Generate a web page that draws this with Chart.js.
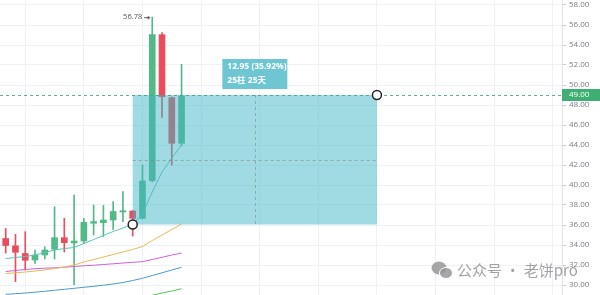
<!DOCTYPE html>
<html>
<head>
<meta charset="utf-8">
<script src="https://cdn.jsdelivr.net/npm/chart.js@4/dist/chart.umd.min.js"></script>
<style>
  html, body { margin: 0; padding: 0; background: #fff; }
  #chart { display: block; }
</style>
</head>
<body>
<canvas id="chart" width="600" height="295"></canvas>
<script>
// candele, indice 0..18
const opens  = [34.65, 33.92, 33.15, 32.50, 33.00, 33.57, 34.73, 34.20, 34.40, 36.17, 36.23, 36.50, 37.30, 37.40, 36.67, 40.43, 55.03, 48.73, 44.17];
const highs  = [35.65, 35.07, 35.33, 33.50, 33.83, 37.83, 36.67, 39.00, 36.67, 38.00, 37.95, 38.33, 39.33, 37.45, 42.00, 56.78, 55.23, 48.80, 52.07];
const lows   = [33.20, 30.33, 31.50, 32.17, 32.60, 32.60, 33.30, 30.00, 34.17, 35.00, 34.85, 35.55, 36.33, 34.90, 36.60, 40.30, 46.77, 42.00, 43.90];
const closes = [33.95, 33.27, 32.47, 33.00, 33.50, 34.73, 34.23, 34.40, 36.27, 36.35, 36.50, 37.35, 37.43, 36.67, 40.40, 55.03, 48.83, 44.17, 48.90];

// medie mobili
const maTeal    = [32.65, 32.75, 32.85, 33.00, 33.25, 33.50, 33.65, 33.75, 34.15, 34.55, 34.95, 35.35, 35.70, 36.05, 37.10, 39.30, 41.30, 42.70, 44.00];
const maOrange  = [31.15, 31.22, 31.30, 31.40, 31.50, 31.65, 31.80, 32.00, 32.30, 32.55, 32.80, 33.05, 33.30, 33.55, 33.85, 34.45, 35.00, 35.55, 36.10];
const maMagenta = [31.35, 31.45, 31.55, 31.63, 31.68, 31.72, 31.77, 31.85, 31.92, 31.98, 32.05, 32.12, 32.20, 32.27, 32.33, 32.55, 32.77, 33.00, 33.20];
const maBlue    = [29.06, 29.13, 29.20, 29.28, 29.37, 29.47, 29.57, 29.67, 29.77, 29.87, 29.98, 30.10, 30.25, 30.45, 30.67, 30.95, 31.22, 31.50, 31.77];
const maGreen   = [null, null, null, null, null, null, null, null, null, null, null, null, null, 28.45, 28.70, 28.97, 29.20, 29.40, 29.63];

const yTicks = [30, 32, 34, 36, 38, 40, 42, 44, 46, 48, 50, 52, 54, 56, 58];
const xGridAt = [2, 8, 14, 20, 26, 32, 38, 44, 50, 56];

// misurazione prezzo
const rangeStart = 13, rangeEnd = 38;
const rangeLow = 36.05, rangeHigh = 49.00;
const rangeText = ['12.95 (35.92%)', '25柱 25天'];
const peakIndex = 15, peakValue = 56.78;
const priceTag = '49.00';
const watermark = '公众号 · 老饼pro';

const upColor = '#53b987';
const downColor = '#eb4d5c';
const candleColors = opens.map((o, i) => closes[i] >= o ? upColor : downColor);

const wicks = opens.map((o, i) => ({ x: i, y: [lows[i], highs[i]] }));
const bodies = opens.map((o, i) => ({ x: i, y: [Math.min(o, closes[i]), Math.max(o, closes[i])] }));
const toPoints = arr => arr.map((v, i) => ({ x: i, y: v }));

function maLine(data, color) {
    return {
        type: 'line',
        data: toPoints(data),
        borderColor: color,
        borderWidth: 1,
        pointRadius: 0,
        tension: 0,
        order: 0
    };
}

// disegni sopra il grafico
const overlayPlugin = {
    id: 'overlay',
    afterDatasetsDraw(chart) {
        const ctx = chart.ctx;
        const xs = chart.scales.x;
        const ys = chart.scales.y;
        const area = chart.chartArea;
        const left = xs.getPixelForValue(rangeStart);
        const right = xs.getPixelForValue(rangeEnd);
        const top = ys.getPixelForValue(rangeHigh);
        const bottom = ys.getPixelForValue(rangeLow);
        const midX = (left + right) / 2;
        const midY = (top + bottom) / 2;

        ctx.save();
        ctx.fillStyle = 'rgba(65, 181, 197, 0.5)';
        ctx.fillRect(left, top, right - left, bottom - top);

        ctx.lineWidth = 1;
        ctx.setLineDash([3, 3]);
        ctx.strokeStyle = 'rgba(60, 165, 125, 0.85)';
        ctx.beginPath();
        ctx.moveTo(area.left, Math.round(top) + 0.5);
        ctx.lineTo(area.right, Math.round(top) + 0.5);
        ctx.stroke();

        ctx.strokeStyle = 'rgba(130, 130, 130, 0.55)';
        ctx.beginPath();
        ctx.moveTo(left, Math.round(midY) + 0.5);
        ctx.lineTo(right, Math.round(midY) + 0.5);
        ctx.moveTo(Math.round(midX) + 0.5, top);
        ctx.lineTo(Math.round(midX) + 0.5, bottom);
        ctx.stroke();
        ctx.setLineDash([]);

        // cerchi di ancoraggio
        [[left, bottom], [right, top]].forEach(([cx, cy]) => {
            ctx.beginPath();
            ctx.arc(cx, cy, 4.5, 0, Math.PI * 2);
            ctx.fillStyle = '#fff';
            ctx.fill();
            ctx.lineWidth = 1.5;
            ctx.strokeStyle = '#222';
            ctx.stroke();
        });

        // etichetta della misura
        const lw = 65, lh = 30;
        const lx = midX - lw / 2, ly = top - 6 - lh;
        ctx.fillStyle = '#6ec6d2';
        ctx.fillRect(lx, ly, lw, lh);
        ctx.fillStyle = '#fff';
        ctx.font = 'bold 8.5px "Noto Sans", "Noto Sans CJK SC", sans-serif';
        ctx.textAlign = 'left';
        ctx.textBaseline = 'middle';
        ctx.fillText(rangeText[0], lx + 5, ly + 8);
        ctx.fillText(rangeText[1], lx + 5, ly + 22);

        // massimo
        const px = xs.getPixelForValue(peakIndex);
        const py = ys.getPixelForValue(peakValue);
        ctx.fillStyle = '#555';
        ctx.font = '7.5px "Open Sans", sans-serif';
        ctx.textAlign = 'right';
        ctx.fillText(peakValue.toFixed(2), px - 10, py);
        ctx.strokeStyle = '#555';
        ctx.lineWidth = 1;
        ctx.beginPath();
        ctx.moveTo(px - 8, py + 0.5);
        ctx.lineTo(px - 3, py + 0.5);
        ctx.stroke();
        ctx.beginPath();
        ctx.moveTo(px - 2, py + 0.5);
        ctx.lineTo(px - 4.5, py - 1.5);
        ctx.lineTo(px - 4.5, py + 2.5);
        ctx.closePath();
        ctx.fillStyle = '#555';
        ctx.fill();

        // prezzo sull'asse
        ctx.fillStyle = '#3fae72';
        ctx.fillRect(area.right, top - 6, chart.width - area.right, 12);
        ctx.fillStyle = '#fff';
        ctx.font = '8px "Open Sans", sans-serif';
        ctx.textAlign = 'left';
        ctx.fillText(priceTag, area.right + 7, top);

        // filigrana
        ctx.fillStyle = 'rgba(150, 150, 150, 0.85)';
        ctx.beginPath();
        ctx.ellipse(439, 268, 7.5, 6.5, 0, 0, Math.PI * 2);
        ctx.fill();
        ctx.strokeStyle = '#fff';
        ctx.lineWidth = 1;
        ctx.beginPath();
        ctx.ellipse(446, 273, 6.5, 5.5, 0, 0, Math.PI * 2);
        ctx.fill();
        ctx.stroke();
        ctx.fillStyle = 'rgba(140, 140, 140, 0.8)';
        ctx.font = '15px "Noto Sans CJK SC", sans-serif';
        ctx.textBaseline = 'middle';
        ctx.fillText(watermark, 457, 270);
        ctx.restore();
    }
};

new Chart(document.getElementById('chart'), {
    type: 'bar',
    data: {
        datasets: [
            maLine(maTeal, '#5ec4b6'),
            maLine(maOrange, '#e8b955'),
            maLine(maMagenta, '#cf62d3'),
            maLine(maBlue, '#4a9bd1'),
            maLine(maGreen, '#56c35a'),
            {
                data: wicks,
                backgroundColor: candleColors,
                barThickness: 1,
                grouped: false,
                order: 1
            },
            {
                data: bodies,
                backgroundColor: candleColors,
                barThickness: 6,
                minBarLength: 1,
                grouped: false,
                order: 1
            }
        ]
    },
    options: {
        responsive: false,
        animation: false,
        devicePixelRatio: 1,
        layout: { padding: 0 },
        plugins: {
            legend: { display: false },
            tooltip: { enabled: false }
        },
        scales: {
            x: {
                type: 'linear',
                offset: false,
                min: -0.583,
                max: 56.94,
                afterBuildTicks: s => { s.ticks = xGridAt.map(v => ({ value: v })); },
                afterFit: s => { s.height = 0; s.paddingLeft = 0; s.paddingRight = 0; },
                ticks: { display: false },
                grid: { color: '#eef1f6', drawTicks: false, offset: false },
                border: { display: false }
            },
            y: {
                position: 'right',
                min: 29,
                max: 58.5,
                afterBuildTicks: s => { s.ticks = yTicks.map(v => ({ value: v })); },
                afterFit: s => { s.width = 38; s.paddingTop = 0; s.paddingBottom = 0; },
                ticks: {
                    callback: v => Number(v).toFixed(2),
                    color: '#7a7d86',
                    font: { size: 8, family: '"Open Sans", sans-serif' },
                    padding: 3
                },
                grid: { color: '#eef1f6', tickColor: '#c9ccd4', tickLength: 4 },
                border: { color: '#e0e3eb' }
            }
        }
    },
    plugins: [overlayPlugin]
});
</script>
</body>
</html>
